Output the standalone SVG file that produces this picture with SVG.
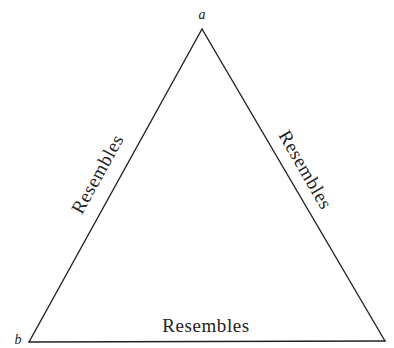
<svg xmlns="http://www.w3.org/2000/svg" width="394" height="348" viewBox="0 0 394 348">
<style>
.edge{stroke:#222;stroke-width:1.4;fill:none;stroke-linecap:round}
.lbl{font-family:"Liberation Serif",serif;font-size:19px;fill:#222;letter-spacing:0.6px;text-anchor:middle}
.v{font-family:"Liberation Serif",serif;font-style:italic;font-size:14px;fill:#222;text-anchor:middle}
</style>
<rect width="394" height="348" fill="#fff"/>
<g id="node-a"><text class="v" x="202" y="19">a</text></g>
<g id="node-b"><text class="v" x="18" y="344">b</text></g>
<g id="node-c"></g>
<g id="connectors">
<line class="edge" x1="202" y1="29" x2="29" y2="342"/>
<line class="edge" x1="202" y1="29" x2="385" y2="341"/>
<line class="edge" x1="29" y1="342" x2="385" y2="341"/>
<text class="lbl" transform="translate(103,177) rotate(-61)">Resembles</text>
<text class="lbl" transform="translate(300,173) rotate(60)">Resembles</text>
<text class="lbl" x="206" y="332">Resembles</text>
</g>
</svg>
